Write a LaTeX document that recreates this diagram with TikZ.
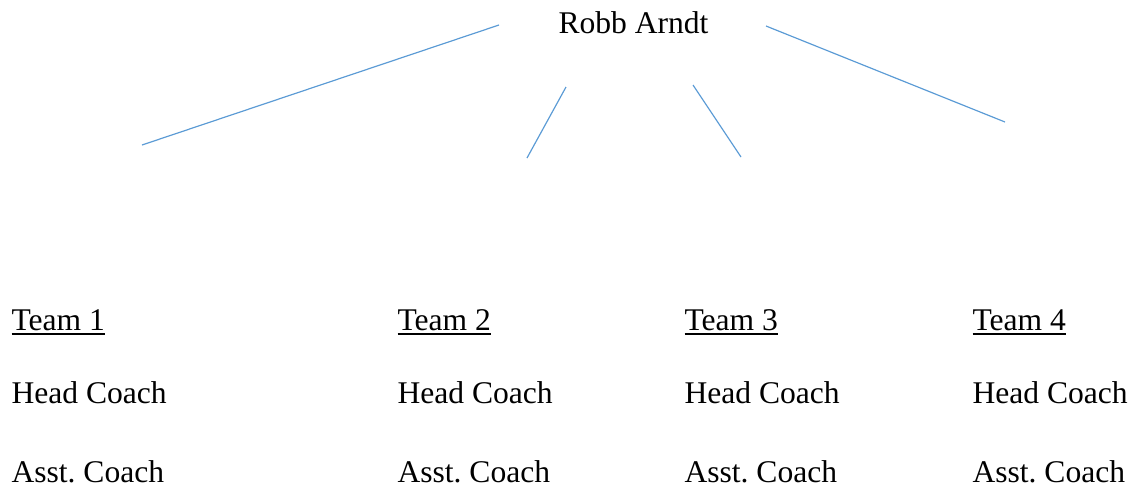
\documentclass[tikz,border=0pt]{standalone}
\usepackage{fontspec}
\setmainfont{Liberation Serif}
\usetikzlibrary{positioning}
\frenchspacing
\definecolor{linkblue}{HTML}{5B9BD5}
\tikzset{
  lbl/.style={anchor=base west,inner sep=0pt,font=\fontsize{12}{14}\selectfont},
  link/.style={linkblue,line width=0.45pt},
}
\begin{document}
\begin{tikzpicture}[x=0.38pt,y=-0.38pt]
  \useasboundingbox (0,0) rectangle (1133,489);
  \node[lbl] (boss) at (558,33) {Robb Arndt};
  % team columns
  \foreach \n/\x in {1/11,2/397,3/684,4/972}{
    \node[lbl] (team\n) at (\x,330) {\underline{Team \n}};
    \node[lbl] (head\n) at (\x,403) {Head Coach};
    \node[lbl] (asst\n) at (\x,482) {Asst. Coach};
  }
  % loose connector ends
  \coordinate (a1) at (499,25);  \coordinate (b1) at (142,145);
  \coordinate (a2) at (566,87);  \coordinate (b2) at (527,158);
  \coordinate (a3) at (693,85);  \coordinate (b3) at (741,157);
  \coordinate (a4) at (766,26);  \coordinate (b4) at (1005,122);
  \foreach \i in {1,2,3,4}{\draw[link] (a\i)--(b\i);}
\end{tikzpicture}
\end{document}
